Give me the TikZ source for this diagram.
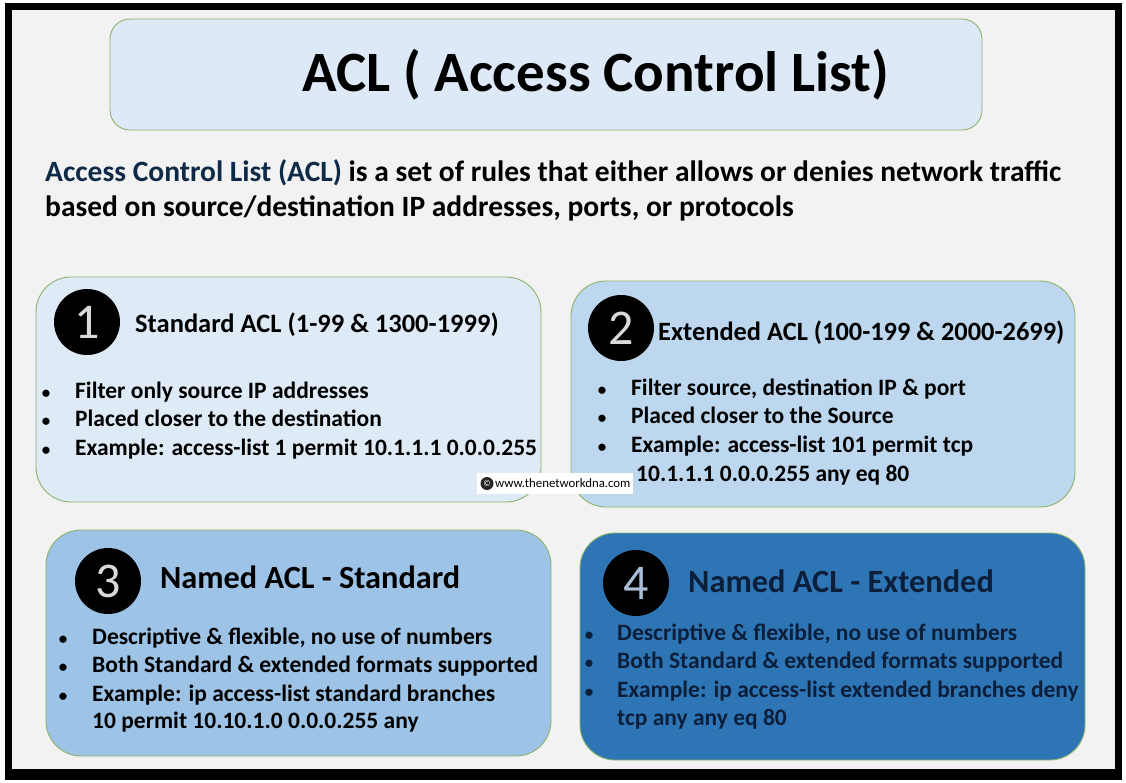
\documentclass[tikz,border=0pt]{standalone}
\usepackage{fontspec}
\setmainfont{Carlito}
\definecolor{bggray}{HTML}{F2F2F2}
\definecolor{edgegreen}{HTML}{8DB36B}
\definecolor{titlefill}{HTML}{DDE9F6}
\definecolor{fillA}{HTML}{DEEBF7}
\definecolor{fillB}{HTML}{BDD7EE}
\definecolor{fillC}{HTML}{9DC3E6}
\definecolor{fillD}{HTML}{2E75B6}
\definecolor{navy}{HTML}{0E2A47}
\definecolor{darknavy}{HTML}{0C1F3A}
\definecolor{numgray}{HTML}{D9D9D9}
\definecolor{numblue}{HTML}{A9BCD6}
\begin{document}
\begin{tikzpicture}[x=1pt,y=-1pt,
  panel/.style={draw=edgegreen,line width=0.9pt,rounded corners=#1},
  numdisc/.style={circle,fill=black,minimum size=66pt,inner sep=0pt,font=\fontsize{50}{50}\selectfont},
  boxtitle/.style={anchor=base west,inner sep=0pt,font=\bfseries\fontsize{#1}{#1}\selectfont},
  bul/.style={anchor=base west,inner sep=0pt,font=\bfseries\fontsize{23.5}{23.5}\selectfont},
  dot/.style={anchor=base,inner sep=0pt,font=\bfseries\fontsize{17}{17}\selectfont}
]
\useasboundingbox (0,0) rectangle (1126,782);
\fill[white] (0,0) rectangle (1126,782);
\fill[black] (5,3) rectangle (1122,780);
\fill[bggray] (12,10) rectangle (1115,769);

% title
\draw[panel=20pt,fill=titlefill] (110,19) rectangle (982,130);
\node[anchor=base,inner sep=0pt,font=\bfseries\fontsize{57}{57}\selectfont] (title) at (596,91) {ACL ( Access Control List)};

% description
\node[anchor=base west,inner sep=0pt,font=\bfseries\fontsize{29.5}{29.5}\selectfont] (desc1) at (45,181) {\textcolor{navy}{Access Control List (ACL)} is a set of rules that either allows or denies network traffic};
\node[anchor=base west,inner sep=0pt,font=\bfseries\fontsize{29.5}{29.5}\selectfont] (desc2) at (45,216) {based on source/destination IP addresses, ports, or protocols};

% box 1
\draw[panel=35pt,fill=fillA] (36,277) rectangle (541,502);
\node[numdisc,text=numgray] (n1) at (87,322) {1};
\node[boxtitle=26.5] (t1) at (135,332) {Standard ACL (1-99 \& 1300-1999)};
\foreach \y/\t in {398/Filter only source IP addresses,426/Placed closer to the destination,455/Example: access-list 1 permit 10.1.1.1 0.0.0.255}{
  \node[dot] at (46,\y) {•};
  \node[bul] at (75,\y) {\t};
}

% box 2
\draw[panel=35pt,fill=fillB] (571,281) rectangle (1075,507);
\node[numdisc,text=numgray] (n2) at (621,328) {2};
\node[boxtitle=26.4] (t2) at (658,340) {Extended ACL (100-199 \& 2000-2699)};
\foreach \y/\t in {395/{Filter source, destination IP \& port},423/Placed closer to the Source,452/Example: access-list 101 permit tcp}{
  \node[dot] at (602,\y) {•};
  \node[bul] at (631,\y) {\t};
}
\node[bul] (b2c) at (636,481) {10.1.1.1 0.0.0.255 any eq 80};

% watermark
\fill[white] (477,473) rectangle (633,494);
\fill[black!85] (487,483.5) circle (6.5);
\node[inner sep=0pt,text=white,font=\fontsize{9}{9}\selectfont] (copy) at (487,483.5) {©};
\node[anchor=west,inner sep=0pt,font=\fontsize{12.8}{12.8}\selectfont] (wm) at (495,483.5) {www.thenetworkdna.com};

% box 3
\draw[panel=35pt,fill=fillC] (46,530) rectangle (551,756);
\node[numdisc,text=numgray] (n3) at (108,581) {3};
\node[boxtitle=32.3] (t3) at (160,588) {Named ACL - Standard};
\foreach \y/\t in {644/{Descriptive \& flexible, no use of numbers},672/Both Standard \& extended formats supported,701/Example: ip access-list standard branches}{
  \node[dot] at (63,\y) {•};
  \node[bul] at (92,\y) {\t};
}
\node[bul] (b3c) at (92,728) {10 permit 10.10.1.0 0.0.0.255 any};

% box 4
\draw[panel=35pt,fill=fillD] (580,533) rectangle (1085,760);
\node[numdisc,text=numblue] (n4) at (636,583) {4};
\node[boxtitle=32.4,text=darknavy] (t4) at (688,592) {Named ACL - Extended};
\foreach \y/\t in {640/{Descriptive \& flexible, no use of numbers},668/Both Standard \& extended formats supported,697/Example: ip access-list extended branches deny}{
  \node[dot,text=darknavy] at (589,\y) {•};
  \node[bul,text=darknavy] at (617,\y) {\t};
}
\node[bul,text=darknavy] (b4c) at (617,725) {tcp any any eq 80};
\end{tikzpicture}
\end{document}
